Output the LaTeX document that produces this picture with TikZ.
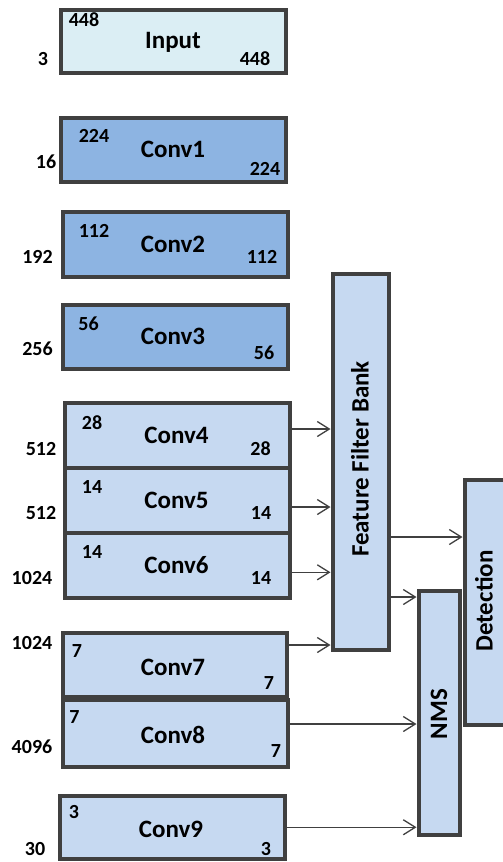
\documentclass[tikz,border=0pt]{standalone}
\usepackage{fontspec}
\setmainfont{Carlito}
\usetikzlibrary{arrows.meta}
\definecolor{bordergray}{HTML}{404040}
\definecolor{inputfill}{HTML}{DBEEF4}
\definecolor{darkfill}{HTML}{8DB4E2}
\definecolor{lightfill}{HTML}{C6D9F1}
\begin{document}
\begin{tikzpicture}[x=1pt,y=-1pt,
  box/.style={draw=bordergray,line width=4pt,inner sep=0pt,rectangle},
  lbl/.style={font=\fontsize{25}{25}\selectfont\bfseries,anchor=base,inner sep=0pt},
  num/.style={font=\fontsize{20}{20}\selectfont\bfseries,anchor=base,inner sep=0pt},
  vlbl/.style={font=\fontsize{25}{25}\selectfont\bfseries,rotate=90,anchor=center,inner sep=0pt},
  arr/.style={draw=bordergray,line width=1.3pt,-{Straight Barb[length=12pt,width=15pt]}}]
\clip (0,0) rectangle (503,862);
\fill[white] (0,0) rectangle (503,862);

% boxes
\node[box,fill=inputfill,minimum width=225pt,minimum height=63pt] (input) at (173.5,41) {};
\node[box,fill=darkfill,minimum width=225pt,minimum height=64pt] (conv1) at (173.5,149.5) {};
\node[box,fill=darkfill,minimum width=225pt,minimum height=65pt] (conv2) at (175,244) {};
\node[box,fill=darkfill,minimum width=225pt,minimum height=64.5pt] (conv3) at (175,336.75) {};
\node[box,fill=lightfill,minimum width=225pt,minimum height=65pt] (conv4) at (177,435.5) {};
\node[box,fill=lightfill,minimum width=225pt,minimum height=65pt] (conv5) at (177,500.5) {};
\node[box,fill=lightfill,minimum width=225pt,minimum height=65pt] (conv6) at (177,565.5) {};
\node[box,fill=lightfill,minimum width=224pt,minimum height=64pt] (conv7) at (175,664.5) {};
\node[box,fill=lightfill,minimum width=225.5pt,minimum height=66.5pt] (conv8) at (175.25,733.25) {};
\node[box,fill=lightfill,minimum width=225pt,minimum height=63.5pt] (conv9) at (172,827.25) {};
\node[box,fill=lightfill,minimum width=56pt,minimum height=375.5pt] (ffb) at (360.5,461.75) {};
\node[box,fill=lightfill,minimum width=50.5pt,minimum height=245.5pt] (det) at (489.75,602.25) {};
\node[box,fill=lightfill,minimum width=41pt,minimum height=244.5pt] (nms) at (439,712.75) {};

% box labels
\node[lbl] (tInput) at (173,48) {Input};
\node[lbl] (tConv1) at (173,157) {Conv1};
\node[lbl] (tConv2) at (173,252) {Conv2};
\node[lbl] (tConv3) at (173,344) {Conv3};
\node[lbl] (tConv4) at (176.5,443) {Conv4};
\node[lbl] (tConv5) at (176.5,508) {Conv5};
\node[lbl] (tConv6) at (176.5,573) {Conv6};
\node[lbl] (tConv7) at (173,675) {Conv7};
\node[lbl] (tConv8) at (173,743) {Conv8};
\node[lbl] (tConv9) at (171,837) {Conv9};
\node[vlbl] (tffb) at (360,459) {Feature Filter Bank};
\node[vlbl] (tnms) at (439,714) {NMS};
\node[vlbl] (tdet) at (484,601) {Detection};

% numbers
\node[num] (n0a) at (84,27) {448};
\node[num] (n0b) at (255,65) {448};
\node[num] (n0c) at (43,65) {3};
\node[num] (n1a) at (94,142) {224};
\node[num] (n1b) at (265,175) {224};
\node[num] (n1c) at (46,168) {16};
\node[num] (n2a) at (94,237) {112};
\node[num] (n2b) at (262,263) {112};
\node[num] (n2c) at (37.5,263) {192};
\node[num] (n3a) at (88.5,330) {56};
\node[num] (n3b) at (264,359) {56};
\node[num] (n3c) at (37.5,355) {256};
\node[num] (n4a) at (92,429) {28};
\node[num] (n4b) at (260.5,455) {28};
\node[num] (n4c) at (41,455) {512};
\node[num] (n5a) at (92,493) {14};
\node[num] (n5b) at (261,519) {14};
\node[num] (n5c) at (41,519) {512};
\node[num] (n6a) at (92,558) {14};
\node[num] (n6b) at (261,584) {14};
\node[num] (n6c) at (32,584) {1024};
\node[num] (n7a) at (77,657) {7};
\node[num] (n7b) at (269,689) {7};
\node[num] (n7c) at (32,649) {1024};
\node[num] (n8a) at (74.5,723) {7};
\node[num] (n8b) at (276,757) {7};
\node[num] (n8c) at (32,753) {4096};
\node[num] (n9a) at (74,818) {3};
\node[num] (n9b) at (266,855) {3};
\node[num] (n9c) at (35,855) {30};

% connectors
\coordinate (s4) at ([yshift=6.5pt]conv4.east);
\coordinate (s5) at ([yshift=-6.5pt]conv5.east);
\coordinate (s6) at ([yshift=-6.8pt]conv6.east);
\coordinate (s7) at ([yshift=19.5pt]conv7.east);
\coordinate (s8) at ([yshift=9.25pt]conv8.east);
\coordinate (s9) at (conv9.east);
\coordinate (sfd) at ([yshift=-75.25pt]ffb.east);
\coordinate (sfn) at ([yshift=-135.25pt]ffb.east);
\draw[arr] (s4) -- (ffb.west |- s4);
\draw[arr] (s5) -- (ffb.west |- s5);
\draw[arr] (s6) -- (ffb.west |- s6);
\draw[arr] (s7) -- (ffb.west |- s7);
\draw[arr] (sfd) -- (det.west |- sfd);
\draw[arr] (sfn) -- (nms.west |- sfn);
\draw[arr] (s8) -- (nms.west |- s8);
\draw[arr] (s9) -- (nms.west |- s9);
\end{tikzpicture}
\end{document}
